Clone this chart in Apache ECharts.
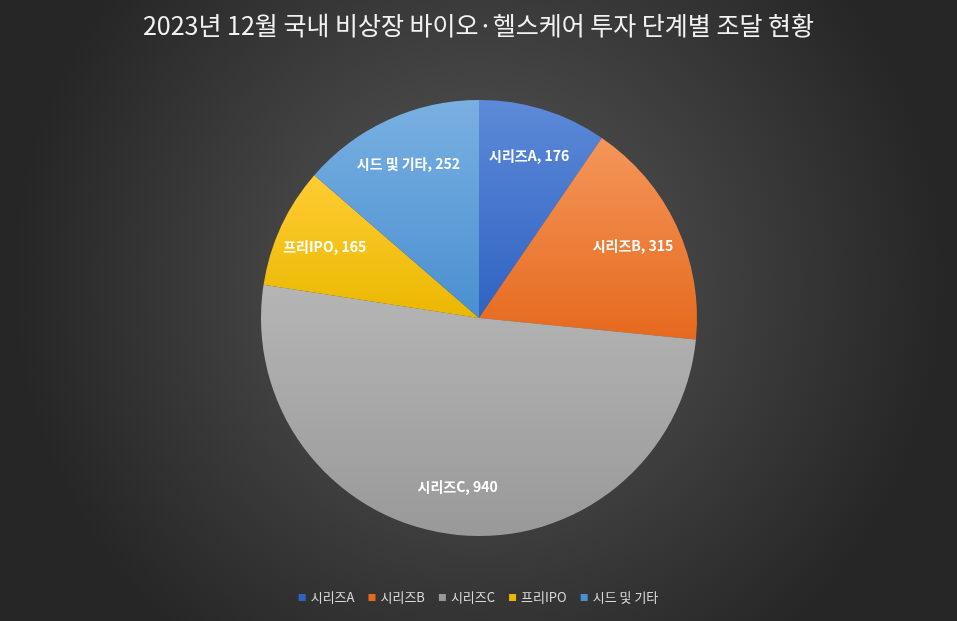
<!DOCTYPE html>
<html>
<head>
<meta charset="utf-8">
<script src="https://cdn.jsdelivr.net/npm/echarts@6/dist/echarts.min.js"></script>
<style>
  html, body { margin: 0; padding: 0; }
  #chart { width: 957px; height: 621px; }
</style>
</head>
<body>
<div id="chart"></div>
<script>
// 투자 단계별 조달 금액
const categories = ["시리즈A", "시리즈B", "시리즈C", "프리IPO", "시드 및 기타"]
const values = [176, 315, 940, 165, 252]
const colors = [
  ["#5d8ad8", "#2f62c2"],
  ["#f4965a", "#e6691d"],
  ["#b5b5b5", "#999999"],
  ["#ffcc33", "#eab800"],
  ["#79b0e2", "#4a8fd0"]
]

const font = "'Noto Sans CJK KR', 'Noto Sans', sans-serif"

function grad(c) {
  return new echarts.graphic.LinearGradient(0, 0, 0, 1, [
    { offset: 0, color: c[0] },
    { offset: 1, color: c[1] }
  ])
}

const pieData = categories.map((name, i) => ({
  name: name,
  value: values[i],
  itemStyle: { color: grad(colors[i]) }
}))

const chart = echarts.init(document.getElementById("chart"))
chart.setOption({
  backgroundColor: new echarts.graphic.RadialGradient(0.5, 0.45, 0.75, [
    { offset: 0, color: "#595959" },
    { offset: 1, color: "#262626" }
  ]),
  title: {
    text: "2023년 12월 국내 비상장 바이오·헬스케어 투자 단계별 조달 현황",
    left: "center",
    top: 8,
    textStyle: { color: "#f2f2f2", fontSize: 25, fontWeight: "normal", fontFamily: font }
  },
  legend: {
    bottom: 12,
    left: "center",
    itemWidth: 7,
    itemHeight: 7,
    itemGap: 14,
    icon: "rect",
    data: categories.map((n, i) => ({ name: n, itemStyle: { color: colors[i][1] } })),
    textStyle: { color: "#d9d9d9", fontSize: 13, fontFamily: font }
  },
  series: [
    {
      type: "pie",
      center: [479, 318],
      radius: [0, 218],
      startAngle: 90,
      clockwise: true,
      data: pieData,
      label: { show: false },
      labelLine: { show: false },
      itemStyle: { borderColor: "rgba(0,0,0,0)", borderWidth: 0 },
      emphasis: { scale: false }
    },
    {
      type: "pie",
      center: [479, 318],
      radius: [0, 334],
      startAngle: 90,
      silent: true,
      data: categories.map((n, i) => ({ name: n, value: values[i] })),
      itemStyle: { color: "rgba(0,0,0,0)" },
      label: {
        show: true,
        position: "inside",
        color: "#ffffff",
        fontSize: 14,
        fontWeight: "bold",
        fontFamily: font,
        formatter: "{b}, {c}"
      },
      labelLine: { show: false },
      legendHoverLink: false
    }
  ]
})
</script>
</body>
</html>
